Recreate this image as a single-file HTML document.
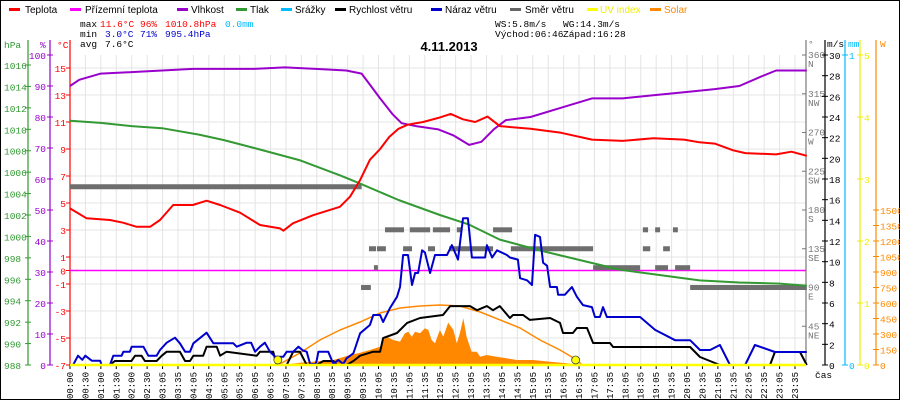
<!DOCTYPE html>
<html><head><meta charset="utf-8">
<style>
html,body{margin:0;padding:0;background:#fff;}
svg{display:block;font-family:"Liberation Sans",sans-serif;}
.m{font-family:"Liberation Mono",monospace;}
</style></head>
<body>
<svg id="c" width="900" height="400" viewBox="0 0 900 400">
<rect x="0.5" y="0.5" width="899" height="399" fill="#fff" stroke="#000"/>
<g id="grid"></g>
<g id="legend" font-size="10">
  <g><rect x="9" y="8" width="11" height="3" fill="#f00"/><text x="25" y="13">Teplota</text></g>
  <g><rect x="70" y="8" width="11" height="3" fill="#f0f"/><text x="85" y="13">Přízemní teplota</text></g>
  <g><rect x="177" y="8" width="11" height="3" fill="#90c"/><text x="191" y="13">Vlhkost</text></g>
  <g><rect x="236" y="8" width="11" height="3" fill="#393"/><text x="250" y="13">Tlak</text></g>
  <g><rect x="281" y="8" width="11" height="3" fill="#0bf"/><text x="295" y="13">Srážky</text></g>
  <g><rect x="335" y="8" width="11" height="3" fill="#000"/><text x="349" y="13">Rychlost větru</text></g>
  <g><rect x="431" y="8" width="11" height="3" fill="#00c"/><text x="445" y="13">Náraz větru</text></g>
  <g><rect x="510" y="8" width="11" height="3" fill="#666"/><text x="525" y="13">Směr větru</text></g>
  <g><rect x="587" y="8" width="11" height="3" fill="#ff0"/><text x="600" y="13" fill="#ee0">UV index</text></g>
  <g><rect x="650" y="8" width="11" height="3" fill="#f80"/><text x="664" y="13" fill="#f80">Solar</text></g>
</g>
<g font-size="9.5" class="m">
  <text x="80" y="27" class="m">max</text>
  <text x="100" y="27" fill="#f00" class="m">11.6°C</text>
  <text x="140" y="27" fill="#f00" class="m">96%</text>
  <text x="165" y="27" fill="#f00" class="m">1010.8hPa</text>
  <text x="225" y="27" fill="#0bf" class="m">0.0mm</text>
  <text x="80" y="37" class="m">min</text>
  <text x="105" y="37" fill="#00c" class="m">3.0°C</text>
  <text x="140" y="37" fill="#00c" class="m">71%</text>
  <text x="165" y="37" fill="#00c" class="m">995.4hPa</text>
  <text x="80" y="47" class="m">avg</text>
  <text x="105" y="47" class="m">7.6°C</text>
  <text x="495" y="27" class="m">WS:5.8m/s</text>
  <text x="563" y="27" class="m">WG:14.3m/s</text>
  <text x="495" y="37" class="m">Východ:06:46</text>
  <text x="563" y="37" class="m">Západ:16:28</text>
</g>
<text x="449" y="51" font-size="13" font-weight="bold" text-anchor="middle">4.11.2013</text>
<g id="axes"></g>
<g id="plot"></g>
</svg>
<script>
// ---- data (hours, value) ----
const tempHours=[0,0.54,1.3,1.73,2.17,2.61,2.93,3.36,4.0,4.45,4.89,5.54,6.19,6.84,6.95,7.26,7.92,8.79,9.12,9.45,9.77,10.1,10.4,10.7,11.0,11.5,12.0,12.4,12.8,13.2,13.6,14.0,15.0,16.0,17.0,18.0,19.0,20.0,20.5,21.0,21.6,22.0,23.0,23.5,24.0];
const tempVals=[4.6,3.87,3.74,3.54,3.24,3.24,3.74,4.85,4.85,5.17,4.85,4.28,3.37,3.12,2.95,3.5,4.1,4.72,5.47,6.7,8.2,9.0,9.9,10.5,10.8,11.0,11.3,11.6,11.2,11.0,11.4,10.7,10.5,10.2,9.7,9.6,9.8,9.7,9.5,9.4,8.9,8.7,8.6,8.8,8.5];
const humHours=[0,0.3,1,2,3,4,6,7,8,9,9.5,9.8,10.1,10.5,10.8,11.3,12,12.5,13,13.4,13.8,14.2,15,16,17,18,19,20,21,21.8,22.5,23,24];
const humVals=[90,92,94,94.5,95,95.5,95.5,96,95.5,95,94,90,86,81,78,77,76,74,71,72,76,79,80,83,86,86,87,88,89,90,93,95,95];
const presHours=[0,1,2,3,4.2,5,6.2,7.5,8.8,9.4,10.7,12.05,13,14,15.3,16.6,17.9,19.2,20.5,21.8,23.1,24];
const presVals=[1010.8,1010.6,1010.3,1010.1,1009.5,1009,1008.1,1007.1,1005.7,1005.0,1003.4,1002.0,1001.1,999.7,998.7,997.8,996.9,996.4,995.9,995.7,995.6,995.4];
const windHours=[0,1.3,1.46,2.0,2.12,2.33,2.44,2.82,2.99,3.15,3.58,3.75,3.91,4.02,4.34,4.45,4.78,4.89,5.1,6.08,6.19,6.62,6.73,7.06,7.27,7.49,7.71,8.04,8.25,8.58,8.69,9.01,9.23,9.45,9.88,10.1,10.2,10.65,10.98,11.4,12.15,12.38,13.03,13.26,13.58,13.78,14.0,14.33,14.43,14.76,14.98,15.64,15.96,16.06,16.38,16.51,16.84,17.04,17.59,17.69,20.2,20.52,21.17,22.8,22.96,23.78,24];
const windVals=[0,0,0.39,0.39,0.9,0.9,0.39,0.39,0.9,1.29,1.29,0.39,0.39,0.9,0.9,1.77,1.77,0.9,1.29,0.9,1.29,1.29,0,0,1.29,1.29,0,0,0.39,0.39,0,0,0.39,0.9,1.29,1.29,2.6,3.1,4.07,4.55,4.84,5.7,5.7,5.3,5.7,5.3,5.7,4.55,4.84,4.84,4.36,4.55,4.07,3.1,3.1,3.58,3.58,2.13,2.13,1.74,1.74,0.77,0,0,1.26,1.26,0];
const gustHours=[0,0.1,0.26,0.4,0.5,0.71,0.98,1.03,1.3,1.41,1.68,1.74,1.95,2.01,2.39,2.55,2.82,2.93,3.15,3.42,3.58,3.75,3.91,4.02,4.45,4.67,5.32,5.43,5.76,5.9,6.03,6.19,6.35,6.51,6.68,6.95,7.06,7.27,7.44,7.59,7.71,7.82,8.0,8.04,8.09,8.41,8.58,8.74,8.9,9.01,9.23,9.45,9.77,9.88,10.10,10.20,10.42,10.65,10.75,10.85,11.01,11.14,11.24,11.34,11.47,11.56,11.73,11.89,12.28,12.44,12.64,12.80,12.96,13.09,13.52,13.58,13.75,13.91,14.23,14.33,14.59,14.66,14.89,15.05,15.15,15.31,15.41,15.54,15.64,15.86,15.90,16.12,16.35,16.51,16.71,17.0,17.1,17.26,17.36,17.49,18.57,19.06,19.71,20.20,20.52,20.85,21.17,21.50,21.99,22.31,22.96,23.78,24];
const gustVals=[0,0,0.9,0.5,0.9,0.42,0.42,0,0,0.9,0.9,1.29,1.29,1.77,1.77,0.9,0.9,1.45,2.16,2.64,2.1,1.29,1.29,2.1,3.13,2.1,2.1,1.77,2.16,2.16,1.29,1.77,2.16,1.29,0.8,0.8,1.29,1.29,1.77,1.4,1.29,0.1,0.1,0.48,1.29,1.29,0.1,0.48,0.1,0.65,1.13,3.07,3.87,4.84,4.84,4.16,5.5,6.6,7.55,10.65,10.65,7.74,8.9,8.9,11.1,10.9,8.9,10.65,10.65,11.6,10.2,14.2,14.2,10.4,10.4,11.6,10.4,11.1,10.65,10.4,10.2,8.4,8.2,7.74,12.6,12.4,9.9,9.6,7.55,7.55,6.8,6.8,7.55,6.6,5.8,5.6,4.65,4.65,5.6,4.65,4.65,3.4,2.4,2.4,1.45,1.45,1.94,0,0,1.94,1.26,1.26,1.26];
const dirStart=[0,9.48,9.74,10.0,9.9,10.26,10.85,11.07,11.66,11.82,12.35,12.6,13.78,14.36,17.04,18.66,19.06,19.64,18.66,19.32,19.06,19.71,20.2];
const dirEnd=[9.5,9.8,9.97,10.29,10.03,10.88,11.14,11.73,11.89,12.38,13.78,12.74,14.4,17.04,18.57,18.83,19.22,19.8,18.9,19.54,19.48,20.2,24];
const dirDeg=[207,90,135,135,113,157,135,157,135,157,135,157,157,135,113,157,157,157,135,135,113,113,90];
const solarHours=[6.9,7.49,8.58,9.12,9.39,9.77,10.10,10.21,10.32,10.53,10.75,10.91,11.02,11.13,11.24,11.40,11.56,11.67,11.78,11.89,12.05,12.16,12.32,12.49,12.60,12.70,12.81,12.92,13.08,13.25,13.36,13.57,13.90,14.22,14.55,15.09,15.64,16.18,16.61,16.7];
const solarVals=[0,22,48,97,113,145,177,242,274,242,226,307,322,274,322,307,355,339,242,210,339,274,410,339,210,307,452,274,129,129,80,97,80,65,48,48,32,16,0,0];
const sunHours=[6.78,7.49,8.14,8.79,9.45,10.10,10.75,11.40,12.05,12.70,13.36,14.01,14.66,15.31,15.96,16.51,16.68];
const sunVals=[0,116,242,339,416,503,552,571,581,571,513,436,358,242,145,48,0];
const timeLabels=["00:00","00:30","01:00","01:30","02:00","02:30","03:05","03:35","04:05","04:35","05:05","05:35","06:05","06:35","07:05","07:35","08:05","08:35","09:05","09:35","10:05","10:35","11:05","11:35","12:05","12:35","13:05","13:35","14:05","14:35","15:05","15:35","16:05","16:35","17:05","17:35","18:05","18:35","19:05","19:35","20:05","20:35","21:05","21:35","22:05","22:35","23:05","23:35"];
const hpaTicks=[988,990,992,994,996,998,1000,1002,1004,1006,1008,1010,1012,1014,1016];
const humTicks=[0,10,20,30,40,50,60,70,80,90,100];
const tempTicks=[-7,-5,-3,-1,0,1,3,5,7,9,11,13,15];
const dirTicks=[45,90,135,180,225,270,315,360];
const dirNames=["NE","E","SE","S","SW","W","NW","N"];
const msTicks=[0,2,4,6,8,10,12,14,16,18,20,22,24,26,28,30];
const uvTicks=[0,1,2,3,4,5];
const wTicks=[0,150,300,450,600,750,900,1050,1200,1350,1500];
const sunrise=6.77, sunset=16.47;

// ---- scales ----
const X0=70,X1=806,Y0=365;
const X=h=>X0+h*30.7;
const yT=t=>Y0-(t+7)*13.5;
const yH=p=>Y0-p*3.1;
const yP=v=>Y0-(v-988)*10.714;
const yW=v=>Y0-v*10.333;
const yD=d=>Y0-d*0.8611;
const yS=w=>Y0-w*0.10333;
const NS="http://www.w3.org/2000/svg";
function mk(tag,attrs,parent){const e=document.createElementNS(NS,tag);for(const k in attrs)e.setAttribute(k,attrs[k]);parent.appendChild(e);return e;}
const grid=document.getElementById('grid'),axes=document.getElementById('axes'),plot=document.getElementById('plot');

// grid
timeLabels.forEach((l,i)=>{const x=X0+i*(X1-X0-11)/47;
  const g=mk('line',{x1:x,x2:x,y1:55,y2:Y0,stroke:'#e4e4e4'},grid);
  
  
  const tk=mk('line',{x1:x,x2:x,y1:Y0,y2:Y0+4,stroke:'#000'},axes);
  
  
  const t=mk('text',{x:0,y:0,'font-size':9,'class':'m',transform:`translate(${x+3},372) rotate(-90)`,'text-anchor':'end'},axes);
  t.textContent=l;
  
  
});
tempTicks.forEach(t=>{if(t===0)return;const y=yT(t);
  const g=mk('line',{x1:X0,x2:X1,y1:y,y2:y,stroke:'#e4e4e4'},grid);
  
  
});

// axis lines
function vline(x,y1,col,name){const l=mk('line',{x1:x,x2:x,y1:y1,y2:Y0,stroke:col,'stroke-width':1.2},axes);}
vline(28,40,'#393','pressure-axis');vline(50,40,'#90c','humidity-axis');vline(70,40,'#f00','temperature-axis');
vline(806,40,'#777','direction-axis');vline(825,40,'#000','wind-speed-axis');vline(845,40,'#0bf','rain-axis');vline(860,40,'#ee0','uv-axis');vline(876,40,'#f80','solar-axis');
function lab(x,y,txt,col,anchor,name,fs){const t=mk('text',{x:x,y:y,fill:col,'font-size':fs||9.5,'text-anchor':anchor||'start','class':'m'},axes);t.textContent=txt;return t;}
lab(4,48,'hPa','#393','start','pressure-axis-title');
lab(40,48,'%','#90c','start','humidity-axis-title');
lab(57,48,'°C','#f00','start','temperature-axis-title');
lab(808,47,'°','#777','start','direction-axis-title');
lab(827,47,'m/s','#000','start','wind-axis-title');
lab(848,47,'mm','#0bf','start','rain-axis-title');
lab(880,47,'W','#f80','start','solar-axis-title');
lab(815,378,'čas','#000','start','x-axis-title');
hpaTicks.forEach(v=>{const y=yP(v);mk('line',{x1:25,x2:31,y1:y,y2:y,stroke:'#393'},axes);lab(4,y+4,String(v),'#393','start','pressure-tick-label');});
humTicks.forEach(v=>{const y=yH(v);mk('line',{x1:47,x2:53,y1:y,y2:y,stroke:'#90c'},axes);lab(46,y+4,String(v),'#90c','end','humidity-tick-label');});
tempTicks.forEach(v=>{const y=yT(v);mk('line',{x1:66,x2:70,y1:y,y2:y,stroke:'#f00'},axes);lab(66,y+4,String(v),'#f00','end','temperature-tick-label');});
dirTicks.forEach((v,i)=>{const y=yD(v);mk('line',{x1:802,x2:806,y1:y,y2:y,stroke:'#777'},axes);lab(808,y+3,String(v),'#777','start','direction-tick-label');lab(808,y+12,dirNames[i],'#777','start','direction-name-label');});
msTicks.forEach(v=>{const y=yW(v);mk('line',{x1:822,x2:828,y1:y,y2:y,stroke:'#000'},axes);lab(829,y+4,String(v),'#000','start','wind-tick-label');});
[0,1].forEach(v=>{const y=v?55:Y0;mk('line',{x1:842,x2:848,y1:y,y2:y,stroke:'#0bf'},axes);lab(849,y+4,String(v),'#0bf','start','rain-tick-label');});
uvTicks.forEach(v=>{const y=Y0-v*62;mk('line',{x1:857,x2:863,y1:y,y2:y,stroke:'#ee0'},axes);lab(864,y+4,String(v),'#ee0','start','uv-tick-label');});
wTicks.forEach(v=>{const y=yS(v);mk('line',{x1:873,x2:879,y1:y,y2:y,stroke:'#f80'},axes);lab(880,y+4,String(v),'#f80','start','solar-tick-label');});

// series
function pts(hs,vs,fy){return hs.map((h,i)=>X(h).toFixed(1)+','+fy(vs[i]).toFixed(1)).join(' ');}
let s=mk('polygon',{points:X(solarHours[0])+','+Y0+' '+pts(solarHours,solarVals,yS)+' '+X(solarHours[solarHours.length-1])+','+Y0,fill:'#f80'},plot);


s=mk('polyline',{points:pts(sunHours,sunVals,yS),fill:'none',stroke:'#f80','stroke-width':1.5},plot);


s=mk('line',{x1:X0,x2:X1,y1:yT(0),y2:yT(0),stroke:'#f0f','stroke-width':1.5},plot);


dirStart.forEach((st,i)=>{const r=mk('rect',{x:X(st),y:yD(dirDeg[i])-2.5,width:Math.max(2,X(dirEnd[i])-X(st)),height:5,fill:'#6e6e6e'},plot);
  
  });
const series=[[presHours,presVals,yP,'#393','pressure-line'],[humHours,humVals,yH,'#90c','humidity-line'],[tempHours,tempVals,yT,'#f00','temperature-line'],[windHours,windVals,yW,'#000','wind-speed-line'],[gustHours,gustVals,yW,'#00c','wind-gust-line']];
series.forEach(sr=>{const p=mk('polyline',{points:pts(sr[0],sr[1],sr[2]),fill:'none',stroke:sr[3],'stroke-width':2,'stroke-linejoin':'round'},plot);
  
  });
s=mk('line',{x1:X0,x2:X1,y1:Y0,y2:Y0,stroke:'#ff0','stroke-width':2.5},plot);


[sunrise,sunset].forEach((h,i)=>{const c=mk('circle',{cx:X(h),cy:360,r:4,fill:'#ff0',stroke:'#444','stroke-width':0.8},plot);
  
  });
</script>
</body></html>
